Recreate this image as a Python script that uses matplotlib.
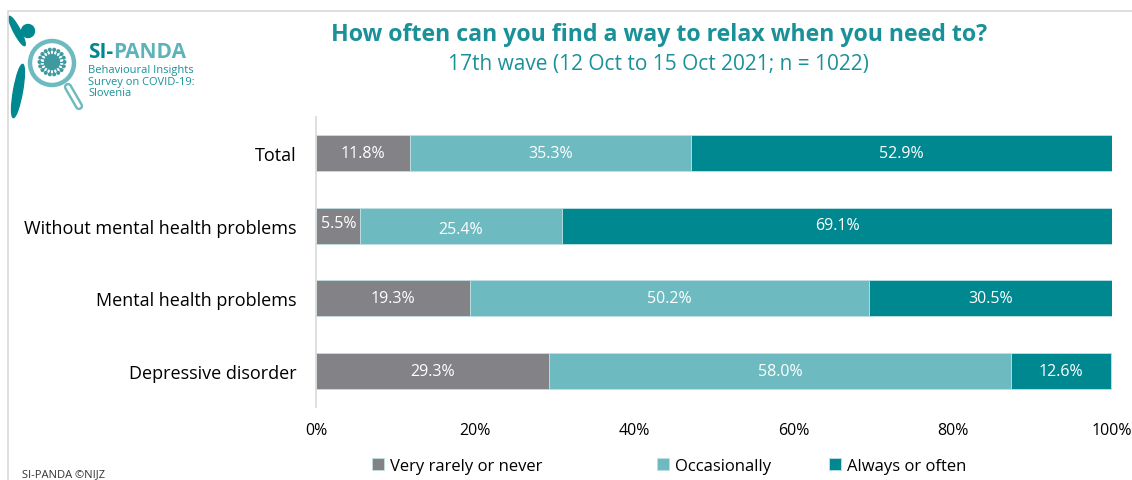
import matplotlib.pyplot as plt
from matplotlib.patches import Circle, Rectangle, Ellipse
import numpy as np

plt.rcParams['font.family'] = ['Open Sans', 'DejaVu Sans']

groups = ['Total', 'Without mental health problems', 'Mental health problems', 'Depressive disorder']
answers = ['Very rarely or never', 'Occasionally', 'Always or often']
rarely = [11.8, 5.5, 19.3, 29.3]
occasionally = [35.3, 25.4, 50.2, 58.0]
always = [52.9, 69.1, 30.5, 12.6]
colors = ['#838387', '#6DBBC0', '#008891']
teal = '#1A9199'

W, H = 1132, 481
fig = plt.figure(figsize=(W / 100, H / 100), dpi=100)

# light frame around the slide
fig.add_artist(Rectangle((0.0075, -0.01), 1.1, 0.985, transform=fig.transFigure,
                         fill=False, edgecolor='#D9D9D9', lw=1.2))

ax = fig.add_axes([316 / W, 1 - 408 / H, 796 / W, 290 / H])
y = np.arange(len(groups))
series = [rarely, occasionally, always]
bars = []
left = np.zeros(len(groups))
for vals, c, name in zip(series, colors, answers):
    b = ax.barh(y, vals, left=left, height=0.5, color=c, label=name,
                edgecolor='#BFE0E2', linewidth=0.6)
    bars.append(b)
    left = left + np.array(vals)

# label offsets (in bar units) for the squeezed row
offsets = {(1, 0): -0.04, (1, 1): 0.05, (1, 2): -0.01}
start = np.zeros(len(groups))
for si, vals in enumerate(series):
    for gi, v in enumerate(vals):
        x = start[gi] + v / 2
        if v < 8:
            x += 0.1
        ax.text(x, y[gi] + offsets.get((gi, si), 0), f'{v:.1f}%', ha='center', va='center',
                color='white', fontsize=11.5)
    start = start + np.array(vals)

ax.set_xlim(0, 100)
ax.set_ylim(3.5, -0.5)
ax.set_yticks(y)
ax.set_yticklabels(groups, fontsize=13)
ax.set_xticks(range(0, 101, 20))
ax.set_xticklabels([f'{t}%' for t in range(0, 101, 20)], fontsize=11.5)
ax.tick_params(length=0)
ax.tick_params(axis='y', pad=14)
ax.tick_params(axis='x', pad=11)
for s in ['top', 'right', 'bottom']:
    ax.spines[s].set_visible(False)
ax.spines['left'].set_color('#D9D9D9')
ax.spines['left'].set_linewidth(1.2)

fig.text(659 / W, 1 - 35 / H, 'How often can you find a way to relax when you need to?',
         ha='center', va='center', fontsize=16.7, fontweight='bold', color=teal)
fig.text(658 / W, 1 - 65 / H, '17th wave (12 Oct to 15 Oct 2021; n = 1022)',
         ha='center', va='center', fontsize=15, color=teal)

# one legend entry per series, spaced like the original slide
for b, name, xl in zip(bars, answers, [372, 657, 829]):
    fig.legend(handles=[b], labels=[name], loc='center left',
               bbox_to_anchor=(xl / W, 1 - 467 / H), frameon=False, fontsize=12,
               handlelength=0.7, handleheight=0.7, handletextpad=0.4, borderpad=0,
               borderaxespad=0)

fig.text(22 / W, 1 - 475 / H, 'SI-PANDA ©NIJZ', fontsize=8, va='center', color='#333333')

# logo: magnifier with virus and figure, drawn in pixel units
lx = fig.add_axes([5 / W, 1 - 125 / H, 85 / W, 115 / H])
lx.set_xlim(5, 90)
lx.set_ylim(125, 10)
lx.axis('off')
lx.add_patch(Ellipse((18, 92), 9, 54, angle=10, color='#008891'))
lx.add_patch(Ellipse((17, 32), 6.5, 33, angle=-28, color='#008891'))
lx.add_patch(Circle((28, 32), 6.5, color='#008891'))
lx.add_patch(Circle((52, 64), 24, color='white', zorder=2))
lx.add_patch(Circle((52, 64), 22, fill=False, edgecolor='#6DBBC0', lw=3.2, zorder=3))
lx.plot([68, 79], [88, 107], color='#6DBBC0', lw=6, solid_capstyle='round', zorder=3)
lx.plot([68, 79], [88, 107], color='white', lw=2.5, solid_capstyle='round', zorder=3)
lx.add_patch(Circle((52, 63), 7.5, color='#3E9AA0', zorder=4))
for a in np.linspace(0, 2 * np.pi, 18, endpoint=False):
    lx.plot([52 + 7 * np.cos(a), 52 + 12 * np.cos(a)], [63 + 7 * np.sin(a), 63 + 12 * np.sin(a)],
            color='#3E9AA0', lw=0.9, zorder=4)
    lx.add_patch(Circle((52 + 12.5 * np.cos(a), 63 + 12.5 * np.sin(a)), 1.3, color='#3E9AA0', zorder=4))

# brand name in two tones: "SI-" dark, "PANDA" light, set side by side
si = fig.text(88 / W, 1 - 52 / H, 'SI-', fontsize=15, fontweight='bold', color='#008891', va='center')
fig.canvas.draw()
bb = si.get_window_extent()
fig.text(bb.x1 / W, 1 - 52 / H, 'PANDA', fontsize=15, fontweight='bold', color='#5DB3B9', va='center')
fig.text(88 / W, 1 - 82 / H, 'Behavioural Insights\nSurvey on COVID-19:\nSlovenia', fontsize=8,
         color='#1A9199', va='center', linespacing=1.0)

fig.savefig('out.png', dpi=100)
